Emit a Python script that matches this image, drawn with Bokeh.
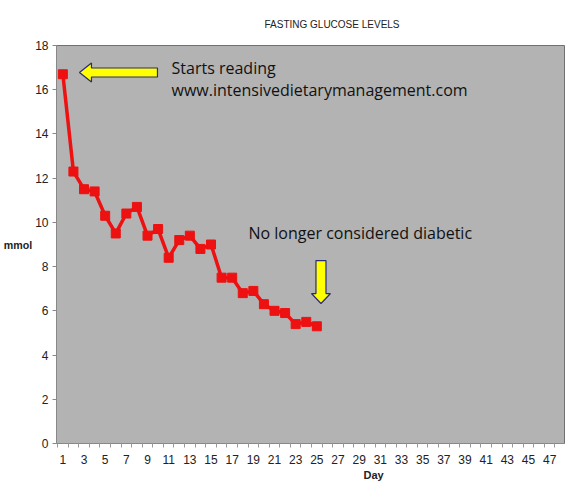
from bokeh.plotting import figure
from bokeh.models import Range1d, FixedTicker, Label, ColumnDataSource, Title
from bokeh.embed import file_html
from bokeh.resources import INLINE

days = list(range(1, 26))
glucose = [16.7, 12.3, 11.5, 11.4, 10.3, 9.5, 10.4, 10.7, 9.4, 9.7, 8.4, 9.2, 9.4,
           8.8, 9.0, 7.5, 7.5, 6.8, 6.9, 6.3, 6.0, 5.9, 5.4, 5.5, 5.3]
x_tick_days = list(range(1, 48, 2))
y_ticks = list(range(0, 19, 2))

title_text = "FASTING GLUCOSE LEVELS"
x_label = "Day"
y_label = "mmol"
note_start = "Starts reading\nwww.intensivedietarymanagement.com"
note_end = "No longer considered diabetic"

p = figure(frame_width=508, frame_height=398, output_backend="svg", toolbar_location=None,
           x_range=Range1d(0.4, 48.4), y_range=Range1d(0, 18),
           min_border_left=53, min_border_right=8, min_border_top=45, min_border_bottom=56,
           border_fill_color="white")
p.background_fill_color = "#b3b3b3"
p.outline_line_color = "#707070"
p.outline_line_width = 1
p.xgrid.visible = False
p.ygrid.visible = False

font = "Liberation Sans"
p.xaxis.ticker = FixedTicker(ticks=x_tick_days, minor_ticks=[d + 0.5 for d in range(0, 48)])
p.xaxis.major_tick_line_color = None
p.xaxis.minor_tick_line_color = "#999999"
p.xaxis.minor_tick_in = 0
p.xaxis.minor_tick_out = 4
p.xaxis.axis_line_color = "#888888"
p.xaxis.major_label_text_font = font
p.xaxis.major_label_text_font_size = "9pt"
p.xaxis.major_label_text_color = "#222222"
p.xaxis.major_label_standoff = 5

p.yaxis.ticker = FixedTicker(ticks=y_ticks, minor_ticks=[])
p.yaxis.major_tick_line_color = "#888888"
p.yaxis.major_tick_in = 0
p.yaxis.major_tick_out = 4
p.yaxis.axis_line_color = "#888888"
p.yaxis.major_label_text_font = font
p.yaxis.major_label_text_font_size = "9pt"
p.yaxis.major_label_text_color = "#222222"
p.yaxis.major_label_standoff = 4
p.yaxis.axis_label = y_label
p.yaxis.axis_label_text_font = font
p.yaxis.axis_label_text_font_size = "8pt"
p.yaxis.axis_label_text_font_style = "bold"
p.yaxis.axis_label_text_color = "#222222"
p.yaxis.axis_label_standoff = 0
try:
    p.yaxis.axis_label_orientation = "horizontal"
except Exception:
    pass

src = ColumnDataSource(dict(x=days, y=glucose))
p.line("x", "y", source=src, line_color="#ee1111", line_width=3.5)
p.scatter("x", "y", source=src, marker="square", size=9, fill_color="#ee1111", line_color="#ee1111")

# Block arrows (annotation shapes anchored at data points)
UX = (48.4 - 0.4) / 508.0
UY = 18 / 398.0

def left_arrow(tip_x, tip_y):
    xs = [tip_x, tip_x + 12 * UX, tip_x + 12 * UX, tip_x + 78 * UX, tip_x + 78 * UX, tip_x + 12 * UX, tip_x + 12 * UX]
    ys = [tip_y, tip_y + 9.5 * UY, tip_y + 4.5 * UY, tip_y + 4.5 * UY, tip_y - 4.5 * UY, tip_y - 4.5 * UY, tip_y - 9.5 * UY]
    return xs, ys

def down_arrow(tip_x, tip_y):
    xs = [tip_x, tip_x - 9.5 * UX, tip_x - 5 * UX, tip_x - 5 * UX, tip_x + 5 * UX, tip_x + 5 * UX, tip_x + 9.5 * UX]
    ys = [tip_y, tip_y + 10 * UY, tip_y + 10 * UY, tip_y + 43 * UY, tip_y + 43 * UY, tip_y + 10 * UY, tip_y + 10 * UY]
    return xs, ys

ax, ay = left_arrow(2.57, 16.78)
p.patch(ax, ay, fill_color="#ffff00", line_color="#2a2a7a", line_width=1.2)
bx, by = down_arrow(25.39, 6.33)
p.patch(bx, by, fill_color="#ffff00", line_color="#2a2a7a", line_width=1.2)

note_font = "Open Sans"
p.add_layout(Label(x=11.27, y=17.5, text=note_start, text_font=note_font, text_font_size="16px",
                   text_color="#111111", text_baseline="top", text_line_height=1.0))
p.add_layout(Label(x=18.54, y=9.5, text=note_end, text_font=note_font, text_font_size="16px",
                   text_color="#111111", text_baseline="middle"))

p.add_layout(Title(text=title_text, text_font=font, text_font_size="10px", text_font_style="normal",
                   text_color="#222222", align="left", offset=208, standoff=31), "above")
p.add_layout(Title(text=x_label, text_font=font, text_font_size="11px", text_font_style="bold",
                   text_color="#222222", align="left", offset=307, standoff=0), "below")

open("out.html", "w").write(file_html(p, INLINE))
